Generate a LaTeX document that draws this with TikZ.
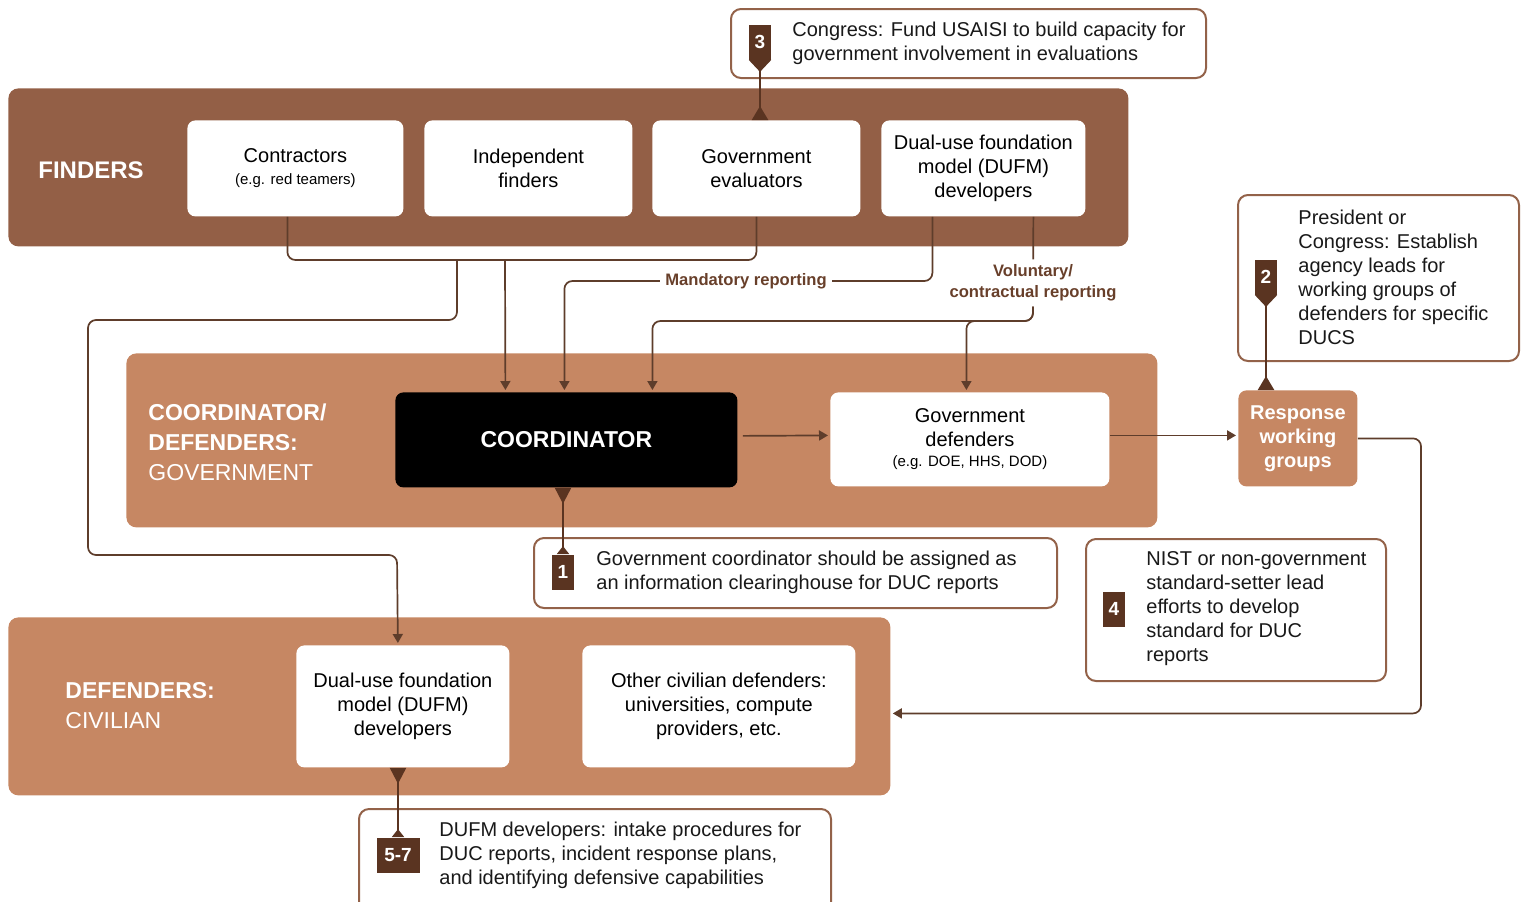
\documentclass[tikz,border=0pt]{standalone}
\usepackage{fontspec}
\setmainfont{Liberation Sans}
\usetikzlibrary{arrows.meta,positioning}

\definecolor{finderbrown}{HTML}{935F46}
\definecolor{bandbrown}{HTML}{C68763}
\definecolor{tagbrown}{HTML}{5A3421}
\definecolor{linebrown}{HTML}{5E3D2B}
\definecolor{notebrown}{HTML}{936249}
\definecolor{labelbrown}{HTML}{683F2A}

\newcommand{\smalltxt}{\fontsize{7.5}{9}\selectfont}
\newcommand{\boxtxt}{\fontsize{10}{12}\selectfont}

\tikzset{
	band/.style={rectangle, rounded corners=5pt, anchor=north west, inner sep=0pt},
	whitebox/.style={rectangle, rounded corners=4pt, fill=white, anchor=north west, align=center, inner sep=0pt, font=\boxtxt},
	notebox/.style={rectangle, rounded corners=5pt, draw=notebrown, line width=1pt, fill=white, anchor=north west, inner sep=0pt},
	notetext/.style={anchor=west, align=left, inner sep=0pt, font=\boxtxt, text=black!90},
	badge/.style={rectangle, fill=tagbrown, text=white, font=\bfseries\fontsize{9.5}{11}\selectfont, minimum width=11pt, minimum height=17.5pt, inner sep=1pt},
	bandlabel/.style={anchor=west, align=left, text=white, inner sep=0pt, font=\fontsize{11.5}{15}\selectfont},
	replabel/.style={align=center, text=labelbrown, inner sep=2.5pt, font=\bfseries\fontsize{8.3}{10.5}\selectfont},
	link/.style={draw=linebrown, line width=0.85pt, rounded corners=4pt},
	arrowlink/.style={link, -{Triangle[width=5pt,length=4.5pt]}, shorten >=1pt},
	tagdown/.style={draw=tagbrown, line width=1.1pt, {Triangle[reversed,width=11pt,length=6pt]}-{Triangle[reversed,width=8pt,length=7pt]}},
	tagup/.style={draw=tagbrown, line width=1.1pt, {Triangle[reversed,width=8pt,length=8pt]}-{Triangle[reversed,width=6pt,length=4pt]}}
}

\begin{document}
\begin{tikzpicture}[x=0.5pt, y=-0.5pt]
	%%%%% START %%%%%
	\useasboundingbox (0, 0) rectangle (1530, 901);
	
	% finders
	\node[band, fill=finderbrown, minimum width=560pt, minimum height=79pt] (finders) at (8, 88) {};
	\node[bandlabel, font=\bfseries\fontsize{12}{15}\selectfont] (finderslbl) at (38, 170) {FINDERS};
	\node[whitebox, minimum width=108pt, minimum height=48pt] (contr) at (187, 120) {Contractors\\[-1pt]{\smalltxt (e.g. red teamers)}};
	\node[whitebox, minimum width=104pt, minimum height=48pt] (indep) at (424, 120) {Independent\\finders};
	\node[whitebox, minimum width=104pt, minimum height=48pt] (geval) at (652, 120) {Government\\evaluators};
	\node[whitebox, minimum width=102pt, minimum height=48pt] (dufmf) at (881, 120) {Dual-use foundation\\model (DUFM)\\developers};
	
	% coordinator / government defenders
	\node[band, fill=bandbrown, minimum width=515.5pt, minimum height=87pt] (govband) at (126, 353) {};
	\node[bandlabel] (govlbl) at (148, 442) {\textbf{COORDINATOR/}\\\textbf{DEFENDERS:}\\GOVERNMENT};
	\node[whitebox, fill=black, text=white, font=\bfseries\fontsize{11.5}{14}\selectfont, minimum width=171pt, minimum height=47.5pt] (coord) at (395, 392) {COORDINATOR};
	\node[whitebox, minimum width=139.5pt, minimum height=47pt] (govdef) at (830, 392) {Government\\defenders\\[-2pt]{\smalltxt (e.g. DOE, HHS, DOD)}};
	\node[whitebox, fill=bandbrown, text=white, font=\bfseries\fontsize{10}{12}\selectfont, minimum width=59.5pt, minimum height=48pt] (resp) at (1238, 390) {Response\\working\\groups};
	
	% civilian defenders
	\node[band, fill=bandbrown, minimum width=441pt, minimum height=89pt] (civband) at (8, 617) {};
	\node[bandlabel] (civlbl) at (65, 706) {\textbf{DEFENDERS:}\\CIVILIAN};
	\node[whitebox, minimum width=106.5pt, minimum height=61pt] (dufmc) at (296, 645) {Dual-use foundation\\model (DUFM)\\developers};
	\node[whitebox, minimum width=136.5pt, minimum height=61pt] (other) at (582, 645) {Other civilian defenders:\\universities, compute\\providers, etc.};
	
	% recommendations
	\node[notebox, minimum width=237.5pt, minimum height=34.5pt] (n3) at (730, 8) {};
	\node[badge] (b3) at (760, 42) {3};
	\node[notetext] (t3) at (792, 43) {Congress: Fund USAISI to build capacity for\\government involvement in evaluations};
	
	\node[notebox, minimum width=140.5pt, minimum height=83pt] (n2) at (1237, 194) {};
	\node[badge] (b2) at (1266, 277) {2};
	\node[notetext] (t2) at (1298, 277) {President or\\Congress: Establish\\agency leads for\\working groups of\\defenders for specific\\DUCS};
	
	\node[notebox, minimum width=261.5pt, minimum height=35pt] (n1) at (533, 537) {};
	\node[badge] (b1) at (563, 572) {1};
	\node[notetext] (t1) at (596, 572) {Government coordinator should be assigned as\\an information clearinghouse for DUC reports};
	
	\node[notebox, minimum width=150pt, minimum height=71pt] (n4) at (1085, 538) {};
	\node[badge] (b4) at (1114, 609) {4};
	\node[notetext] (t4) at (1146, 609) {NIST or non-government\\standard-setter lead\\efforts to develop\\standard for DUC\\reports};
	
	\node[notebox, minimum width=236pt, minimum height=60pt] (n57) at (358, 808) {};
	\node[badge, minimum width=21.5pt] (b57) at (398, 855) {5-7};
	\node[notetext] (t57) at (439, 855) {DUFM developers: intake procedures for\\DUC reports, incident response plans,\\and identifying defensive capabilities};
	
	% reporting lines
	\coordinate (bus) at (600, 260);
	\coordinate (tapA) at (457, 260);
	\coordinate (tapB) at (505, 260);
	\draw[link] ([xshift=-4pt]contr.south) |- (bus) -| (geval.south);
	\draw[arrowlink] (tapA) |- (88, 320) |- (397, 555) -- ([xshift=-2.5pt]dufmc.north);
	\draw[arrowlink] (tapB) -- ([xshift=-30.5pt]coord.north);
	
	\node[replabel] (mand) at (746, 281) {Mandatory reporting};
	\draw[link] ([xshift=-25.5pt]dufmf.south) |- (mand.east);
	\draw[arrowlink] (mand.west) -| ([xshift=-1pt]coord.north);
	
	\node[replabel] (vol) at (1033, 283) {Voluntary/\\contractual reporting};
	\coordinate (vbus) at (1000, 321);
	\draw[link] ([xshift=25pt]dufmf.south) -- (vol);
	\draw[arrowlink] (vol.south) |- (vbus) -| ([xshift=43pt]coord.north);
	\draw[arrowlink] (vol.south) |- (vbus) -| ([xshift=-1.75pt]govdef.north);
	
	\draw[arrowlink, shorten <=2.5pt] ([yshift=2pt]coord.east) -- ([yshift=2pt]govdef.west);
	\draw[arrowlink] ([yshift=2pt]govdef.east) -- ([yshift=2pt]govdef.east -| resp.west);
	\coordinate (rbend) at (1421, 600);
	\draw[arrowlink] (resp.east) -| (rbend) |- ([yshift=-3.5pt]civband.east);
	
	% badge pointers
	\draw[tagdown] (b3.south) -- (b3.south |- geval.north);
	\draw[tagdown] (b2.south) -- (b2.south |- resp.north);
	\draw[tagup] (b1.north |- coord.south) -- (b1.north);
	\draw[tagup] (b57.north |- dufmc.south) -- (b57.north);
	
	%%%%% END %%%%%
\end{tikzpicture}
\end{document}
